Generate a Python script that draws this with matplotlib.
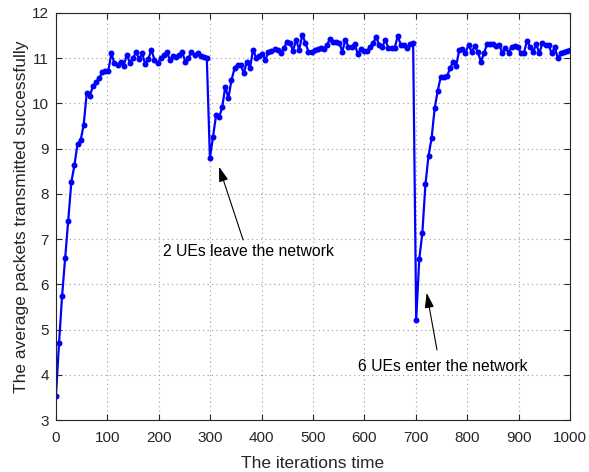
import matplotlib
matplotlib.use('Agg')
import matplotlib.pyplot as plt
import numpy as np

# average packets per sample
warmup_values = [3.54, 4.70, 5.75, 6.58, 7.40, 8.26, 8.63, 9.10, 9.18, 9.52,
                 10.23, 10.16, 10.38, 10.46, 10.55, 10.68, 10.72, 10.72, 11.10,
                 10.88, 10.85, 10.92, 10.82, 11.07, 10.90, 10.99, 11.13, 10.98, 11.10,
                 10.86, 10.98, 11.18, 10.96, 10.88, 10.99, 11.07, 11.13, 10.96, 11.04,
                 11.03, 11.07, 11.13, 10.92, 10.99, 11.14, 11.07, 11.10, 11.05, 11.03,
                 10.99]
leave_values = [8.79, 9.25, 9.74, 9.69, 9.91, 10.37, 10.11, 10.51, 10.77, 10.85,
                10.85, 10.66, 10.92, 10.77, 11.18, 11.01, 11.04, 11.08, 10.96, 11.13,
                11.16, 11.19, 11.18, 11.10, 11.21, 11.36, 11.34, 11.16, 11.40, 11.18,
                11.51, 11.34, 11.14, 11.14, 11.18, 11.19,
                11.22, 11.19, 11.29, 11.42, 11.36, 11.36, 11.34, 11.14, 11.40, 11.25,
                11.25, 11.32, 11.09, 11.19, 11.15, 11.15, 11.25, 11.34, 11.46, 11.29,
                11.25, 11.40, 11.21, 11.21, 11.21, 11.49, 11.29, 11.29, 11.21, 11.31,
                11.34]
enter_values = [5.22, 6.56, 7.14, 8.21, 8.84, 9.23, 9.89, 10.28, 10.59, 10.57,
                10.60, 10.77, 10.92, 10.83, 11.18, 11.19, 11.12, 11.29, 11.14, 11.26,
                11.14, 10.92, 11.10, 11.31, 11.32, 11.31, 11.26, 11.29, 11.10, 11.23,
                11.12, 11.25, 11.26, 11.25, 11.10, 11.12, 11.38, 11.25, 11.14, 11.30,
                11.10, 11.34, 11.29, 11.29, 11.10, 11.24, 10.99, 11.10, 11.13, 11.15,
                11.18]

packets = warmup_values + leave_values + enter_values
# samples are spread evenly over the 1000 iterations
iterations = np.linspace(0, 1000, len(packets))

x_ticks = [0, 100, 200, 300, 400, 500, 600, 700, 800, 900, 1000]
y_ticks = [3, 4, 5, 6, 7, 8, 9, 10, 11, 12]

plt.rcParams['font.family'] = ['Liberation Sans', 'DejaVu Sans']
dark = '#262626'

fig = plt.figure(figsize=(5.89, 4.72), dpi=100)
ax = fig.add_axes([0.095, 0.110, 0.873, 0.863])

ax.plot(iterations, packets, color='#0000ff', linewidth=1.6,
        marker='o', markersize=4.3, markeredgewidth=0)

ax.set_xlim(0, 1000)
ax.set_ylim(3, 12)
ax.set_xticks(x_ticks)
ax.set_yticks(y_ticks)
ax.tick_params(direction='in', top=True, right=True, labelsize=11, length=4,
               color=dark, labelcolor=dark)
ax.tick_params(axis='x', pad=8)
ax.tick_params(axis='y', pad=5)
ax.grid(True, linestyle=(0, (1, 3)), color='#9a9a9a', linewidth=0.8)
for s in ax.spines.values():
    s.set_linewidth(0.8)
    s.set_color(dark)

ax.set_xlabel('The iterations time', fontsize=12.5, labelpad=8, color=dark)
ax.set_ylabel('The average packets transmitted successfully', fontsize=12.5,
              labelpad=2, color=dark)

# annotations with Matlab-like filled arrow heads
arrow_props = dict(arrowstyle='-|>,head_length=0.9,head_width=0.28',
                   color='black', linewidth=0.8, shrinkA=0, shrinkB=0)
ax.annotate('', xy=(317, 8.60), xytext=(364, 6.98), arrowprops=arrow_props)
ax.text(208, 6.72, '2 UEs leave the network', fontsize=11.3, va='center', ha='left')

ax.annotate('', xy=(721, 5.81), xytext=(741, 4.55), arrowprops=arrow_props)
ax.text(587, 4.18, '6 UEs enter the network', fontsize=11.3, va='center', ha='left')

plt.savefig('out.png', dpi=100)
